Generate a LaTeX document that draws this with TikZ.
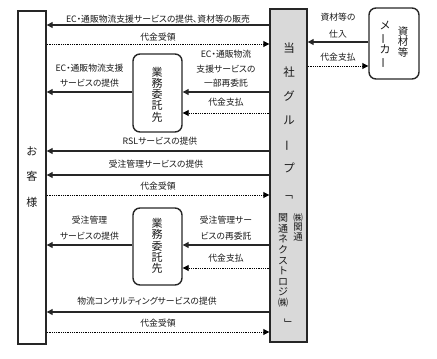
\documentclass[tikz,border=0pt]{standalone}
\usepackage{fontspec}
\usepackage{graphicx}
\setmainfont{Noto Sans CJK JP}
\newfontfamily\jpp[RawFeature=+palt]{Noto Sans CJK JP}
\usetikzlibrary{arrows.meta}
\definecolor{grp}{HTML}{D9D9D9}
\definecolor{ln}{HTML}{262626}
\newcommand\vbar{\rotatebox[origin=c]{90}{ー}}
\newcommand\vopen{\rotatebox[origin=c]{-90}{「}}
\newcommand\vclose{\rotatebox[origin=c]{-90}{」}}
\begin{document}
\begin{tikzpicture}[x=1pt,y=-1pt,
  box/.style={draw=ln, line width=1.4pt, inner sep=0pt},
  rbox/.style={draw=ln, line width=1.4pt, rounded corners=7pt, inner sep=0pt},
  flow/.style={draw=ln, line width=1.2pt, -{Triangle[length=6pt,width=6pt]}},
  pay/.style={draw=black, line width=0.9pt, dash pattern=on 0.9pt off 0.9pt, -{Triangle[length=6pt,width=6pt]}},
  lbl/.style={font=\jpp\fontsize{8.8}{15}\selectfont, inner sep=0pt, align=center, text=black!90},
  vtx/.style={inner sep=0pt, align=center, text=black!90},
  ]
\useasboundingbox (0,0) rectangle (437,359);

% boxes
\node[box, minimum width=28pt, minimum height=333pt] (cust) at (32,177.5) {};
\node[box, fill=grp, minimum width=37pt, minimum height=333pt] (grp) at (288.5,175.5) {};
\node[rbox, minimum width=50pt, minimum height=71pt] (mak) at (394,43.5) {};
\node[rbox, minimum width=49pt, minimum height=78pt] (g1) at (157.5,93) {};
\node[rbox, minimum width=49pt, minimum height=77pt] (g2) at (157.5,246.5) {};

% vertical texts
\node[vtx, font=\fontsize{11}{25.5}\selectfont] (custT) at (32,177) {お\\客\\様};
\node[vtx, font=\fontsize{11.5}{24}\selectfont] (grpT) at (289,108) {当\\社\\グ\\ル\\\vbar\\プ};
\node[vtx, font=\fontsize{11}{11}\selectfont] (grpB) at (288,194) {\vopen};
\node[vtx, font=\fontsize{10}{10.6}\selectfont] (grpL) at (283,260.5) {関\\通\\ネ\\ク\\ス\\ト\\ロ\\ジ\\㈱};
\node[vtx, font=\fontsize{9.5}{9.5}\selectfont] (grpR) at (298,227) {㈱\\関\\通};
\node[vtx, font=\fontsize{11}{11}\selectfont] (grpE) at (288,324) {\vclose};
\node[vtx, font=\fontsize{11}{12}\selectfont] (makL) at (385,45) {メ\\\vbar\\カ\\\vbar};
\node[vtx, font=\fontsize{10.5}{10.5}\selectfont] (makR) at (403,42) {資\\材\\等};
\node[vtx, font=\fontsize{11}{11.2}\selectfont] (g1T) at (157,94.5) {業\\務\\委\\託\\先};
\node[vtx, font=\fontsize{11}{11.2}\selectfont] (g2T) at (157,246) {業\\務\\委\\託\\先};

% top flows
\node[lbl] (l1) at (158,19) {EC・通販物流支援サービスの提供、資材等の販売};
\draw[flow] (grp.west |- 0,25) -- (cust.east |- 0,25);
\node[lbl] (l2) at (158,37) {代金受領};
\draw[pay] (cust.east |- 0,44) -- (grp.west |- 0,44);

% gyomu 1
\node[lbl] (l3) at (89.5,75.5) {EC・通販物流支援\\サービスの提供};
\draw[flow] (g1.west |- 0,92) -- (cust.east |- 0,92);
\node[lbl, font=\jpp\fontsize{8.8}{14.5}\selectfont] (l4) at (226,69) {EC・通販物流\\支援サービスの\\一部再委託};
\draw[flow] (grp.west |- 0,92) -- (g1.east |- 0,92);
\node[lbl] (l5) at (226,102.5) {代金支払};
\draw[pay] (grp.west |- 0,113) -- (g1.east |- 0,113);

% maker
\node[lbl, font=\jpp\fontsize{8.8}{17}\selectfont] (l6) at (338,25.5) {資材等の\\仕入};
\draw[flow] (mak.west |- 0,42) -- (grp.east |- 0,42);
\node[lbl] (l7) at (338,57) {代金支払};
\draw[pay] (grp.east |- 0,66) -- (mak.west |- 0,66);

% middle flows
\node[lbl] (l8) at (160,141) {RSLサービスの提供};
\draw[flow] (grp.west |- 0,151) -- (cust.east |- 0,151);
\node[lbl] (l9) at (156,164) {受注管理サービスの提供};
\draw[flow] (grp.west |- 0,175) -- (cust.east |- 0,175);
\node[lbl] (l10) at (158,186) {代金受領};
\draw[pay] (cust.east |- 0,195) -- (grp.west |- 0,195);

% gyomu 2
\node[lbl, font=\jpp\fontsize{8.8}{16}\selectfont] (l11) at (89.5,228) {受注管理\\サービスの提供};
\draw[flow] (g2.west |- 0,245) -- (cust.east |- 0,245);
\node[lbl, font=\jpp\fontsize{8.8}{16}\selectfont] (l12) at (226,228) {受注管理サー\\ビスの再委託};
\draw[flow] (grp.west |- 0,245) -- (g2.east |- 0,245);
\node[lbl] (l13) at (226,258) {代金支払};
\draw[pay] (grp.west |- 0,268) -- (g2.east |- 0,268);

% bottom flows
\node[lbl] (l14) at (147,301) {物流コンサルティングサービスの提供};
\draw[flow] (grp.west |- 0,312) -- (cust.east |- 0,312);
\node[lbl] (l15) at (158,323) {代金受領};
\draw[pay] (cust.east |- 0,332) -- (grp.west |- 0,332);
\end{tikzpicture}
\end{document}
